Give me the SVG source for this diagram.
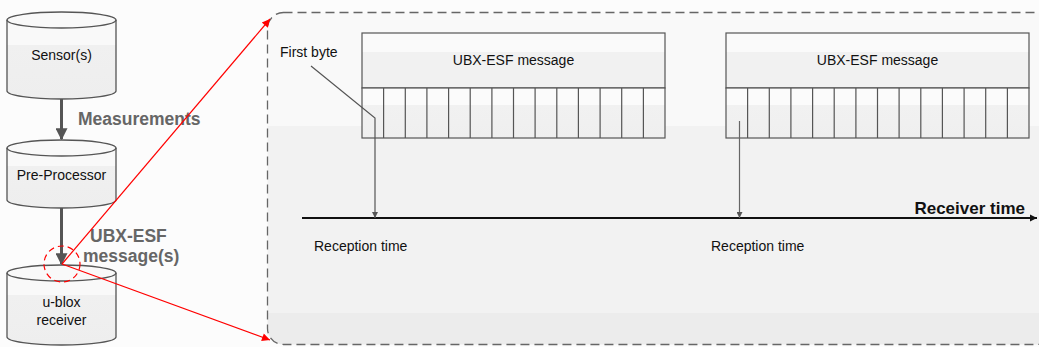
<svg xmlns="http://www.w3.org/2000/svg" width="1039" height="347" viewBox="0 0 1039 347">
<style>
.t{font-family:"Liberation Sans",Arial,sans-serif;font-size:14px;fill:#111}
.b{font-family:"Liberation Sans",Arial,sans-serif;font-weight:bold;font-size:17.5px;fill:#666}
.cyl{fill:url(#cylg);stroke:#555;stroke-width:1.3}
.cell{stroke:#555;stroke-width:1.2}
.thick{stroke:#555;stroke-width:3;fill:none}
.red{stroke:#f00;stroke-width:1.2;fill:none}
</style>
<defs>
<linearGradient id="panel" x1="0" y1="12" x2="0" y2="345" gradientUnits="userSpaceOnUse">
<stop offset="0" stop-color="#f9f9f9"/><stop offset="0.341" stop-color="#f9f9f9"/>
<stop offset="0.341" stop-color="#f2f2f2"/><stop offset="0.904" stop-color="#f2f2f2"/>
<stop offset="0.904" stop-color="#ececec"/><stop offset="1" stop-color="#ececec"/>
</linearGradient>
<linearGradient id="cylg" x1="0" y1="0" x2="0" y2="1">
<stop offset="0" stop-color="#f9f9f9"/><stop offset="0.38" stop-color="#f9f9f9"/>
<stop offset="0.38" stop-color="#f0f0f0"/><stop offset="1" stop-color="#eeeeee"/>
</linearGradient>
<linearGradient id="hdr" x1="0" y1="0" x2="0" y2="1">
<stop offset="0" stop-color="#fafafa"/><stop offset="0.35" stop-color="#fafafa"/>
<stop offset="0.35" stop-color="#f1f1f1"/><stop offset="1" stop-color="#f1f1f1"/>
</linearGradient>
<linearGradient id="cel" x1="0" y1="0" x2="0" y2="1">
<stop offset="0" stop-color="#fbfbfb"/><stop offset="0.34" stop-color="#fbfbfb"/>
<stop offset="0.34" stop-color="#f1f1f1"/><stop offset="1" stop-color="#efefef"/>
</linearGradient>
<marker id="ag" viewBox="0 0 10 10" refX="10" refY="5" markerWidth="6" markerHeight="6" markerUnits="userSpaceOnUse" orient="auto"><path d="M0,0 L10,5 L0,10 z" fill="#555"/></marker>
<marker id="agb" viewBox="0 0 10 10" refX="9" refY="5" markerWidth="12" markerHeight="12" markerUnits="userSpaceOnUse" orient="auto"><path d="M0,0 L10,5 L0,10 z" fill="#555"/></marker>
<marker id="ar" viewBox="0 0 10 10" refX="10" refY="5" markerWidth="10" markerHeight="8" markerUnits="userSpaceOnUse" orient="auto"><path d="M0,0 L10,5 L0,10 z" fill="#f00"/></marker>
<marker id="ak" viewBox="0 0 10 10" refX="10" refY="5" markerWidth="7" markerHeight="8" markerUnits="userSpaceOnUse" orient="auto"><path d="M0,0 L10,5 L0,10 z" fill="#111"/></marker>
</defs>
<rect width="1039" height="347" fill="#fcfcfc"/>
<g id="panel-box">
<rect x="267.5" y="12.5" width="785" height="332" rx="16" fill="url(#panel)" stroke="#666" stroke-width="1.3" stroke-dasharray="9,5"/>
</g>
<g id="sensor">
<path class="cyl" d="M7,20 A54.5,8 0 0 1 116,20 L116,91 A54.5,8 0 0 1 7,91 Z"/>
<path d="M7,20 A54.5,8 0 0 0 116,20" fill="none" stroke="#555" stroke-width="1.3"/>
<text class="t" x="61.5" y="60" text-anchor="middle">Sensor(s)</text>
</g>
<g id="preprocessor">
<path class="cyl" d="M7,148 A54.5,8 0 0 1 116,148 L116,200 A54.5,8 0 0 1 7,200 Z"/>
<path d="M7,148 A54.5,8 0 0 0 116,148" fill="none" stroke="#555" stroke-width="1.3"/>
<text class="t" x="61.5" y="180" text-anchor="middle">Pre-Processor</text>
</g>
<g id="receiver">
<path class="cyl" d="M7,273 A54.5,8 0 0 1 116,273 L116,337 A54.5,8 0 0 1 7,337 Z"/>
<path d="M7,273 A54.5,8 0 0 0 116,273" fill="none" stroke="#555" stroke-width="1.3"/>
<text class="t" x="61.5" y="307" text-anchor="middle">u-blox</text>
<text class="t" x="61.5" y="325" text-anchor="middle">receiver</text>
</g>
<g id="msg1">
<rect x="362" y="33" width="303" height="55" fill="url(#hdr)" stroke="#555" stroke-width="1.2"/>
<rect x="362" y="88" width="303" height="50" fill="url(#cel)" stroke="#555" stroke-width="1.2"/>
<g class="cell">
<line x1="383.6" y1="88" x2="383.6" y2="138"/><line x1="405.3" y1="88" x2="405.3" y2="138"/>
<line x1="426.9" y1="88" x2="426.9" y2="138"/><line x1="448.6" y1="88" x2="448.6" y2="138"/>
<line x1="470.2" y1="88" x2="470.2" y2="138"/><line x1="491.9" y1="88" x2="491.9" y2="138"/>
<line x1="513.5" y1="88" x2="513.5" y2="138"/><line x1="535.1" y1="88" x2="535.1" y2="138"/>
<line x1="556.8" y1="88" x2="556.8" y2="138"/><line x1="578.4" y1="88" x2="578.4" y2="138"/>
<line x1="600.1" y1="88" x2="600.1" y2="138"/><line x1="621.7" y1="88" x2="621.7" y2="138"/>
<line x1="643.4" y1="88" x2="643.4" y2="138"/>
</g>
<text class="t" x="513.5" y="65" text-anchor="middle">UBX-ESF message</text>
</g>
<g id="msg2">
<rect x="726" y="33" width="303" height="55" fill="url(#hdr)" stroke="#555" stroke-width="1.2"/>
<rect x="726" y="88" width="303" height="50" fill="url(#cel)" stroke="#555" stroke-width="1.2"/>
<g class="cell">
<line x1="747.6" y1="88" x2="747.6" y2="138"/><line x1="769.3" y1="88" x2="769.3" y2="138"/>
<line x1="790.9" y1="88" x2="790.9" y2="138"/><line x1="812.6" y1="88" x2="812.6" y2="138"/>
<line x1="834.2" y1="88" x2="834.2" y2="138"/><line x1="855.9" y1="88" x2="855.9" y2="138"/>
<line x1="877.5" y1="88" x2="877.5" y2="138"/><line x1="899.1" y1="88" x2="899.1" y2="138"/>
<line x1="920.8" y1="88" x2="920.8" y2="138"/><line x1="942.4" y1="88" x2="942.4" y2="138"/>
<line x1="964.1" y1="88" x2="964.1" y2="138"/><line x1="985.7" y1="88" x2="985.7" y2="138"/>
<line x1="1007.4" y1="88" x2="1007.4" y2="138"/>
</g>
<text class="t" x="877.5" y="65" text-anchor="middle">UBX-ESF message</text>
</g>
<g id="timeline">
<line x1="302" y1="218" x2="1037" y2="218" stroke="#111" stroke-width="2" marker-end="url(#ak)"/>
<text x="1025" y="214" text-anchor="end" font-family="Liberation Sans, Arial, sans-serif" font-weight="bold" font-size="17px" fill="#111">Receiver time</text>
<text class="t" x="314" y="251">Reception time</text>
<text class="t" x="711" y="251">Reception time</text>
</g>
<g id="labels">
<text class="t" x="280" y="57">First byte</text>
<text class="b" x="78" y="125">Measurements</text>
<text class="b" x="90" y="242">UBX-ESF</text>
<text class="b" x="83" y="262">message(s)</text>
</g>
<g id="connectors">
<line class="thick" x1="61.5" y1="99" x2="61.5" y2="139" marker-end="url(#agb)"/>
<line class="thick" x1="61.5" y1="208" x2="61.5" y2="264" marker-end="url(#agb)"/>
<polyline points="311,66 375,118 375,218" fill="none" stroke="#555" stroke-width="1.2" marker-end="url(#ag)"/>
<line x1="739.5" y1="121" x2="739.5" y2="218" stroke="#666" stroke-width="1.2" marker-end="url(#ag)"/>
<circle cx="62" cy="264" r="18" fill="none" stroke="#f00" stroke-width="1.2" stroke-dasharray="6,4"/>
<line class="red" x1="62" y1="264" x2="270" y2="19" marker-end="url(#ar)"/>
<line class="red" x1="62" y1="264" x2="270" y2="340" marker-end="url(#ar)"/>
</g>
</svg>
